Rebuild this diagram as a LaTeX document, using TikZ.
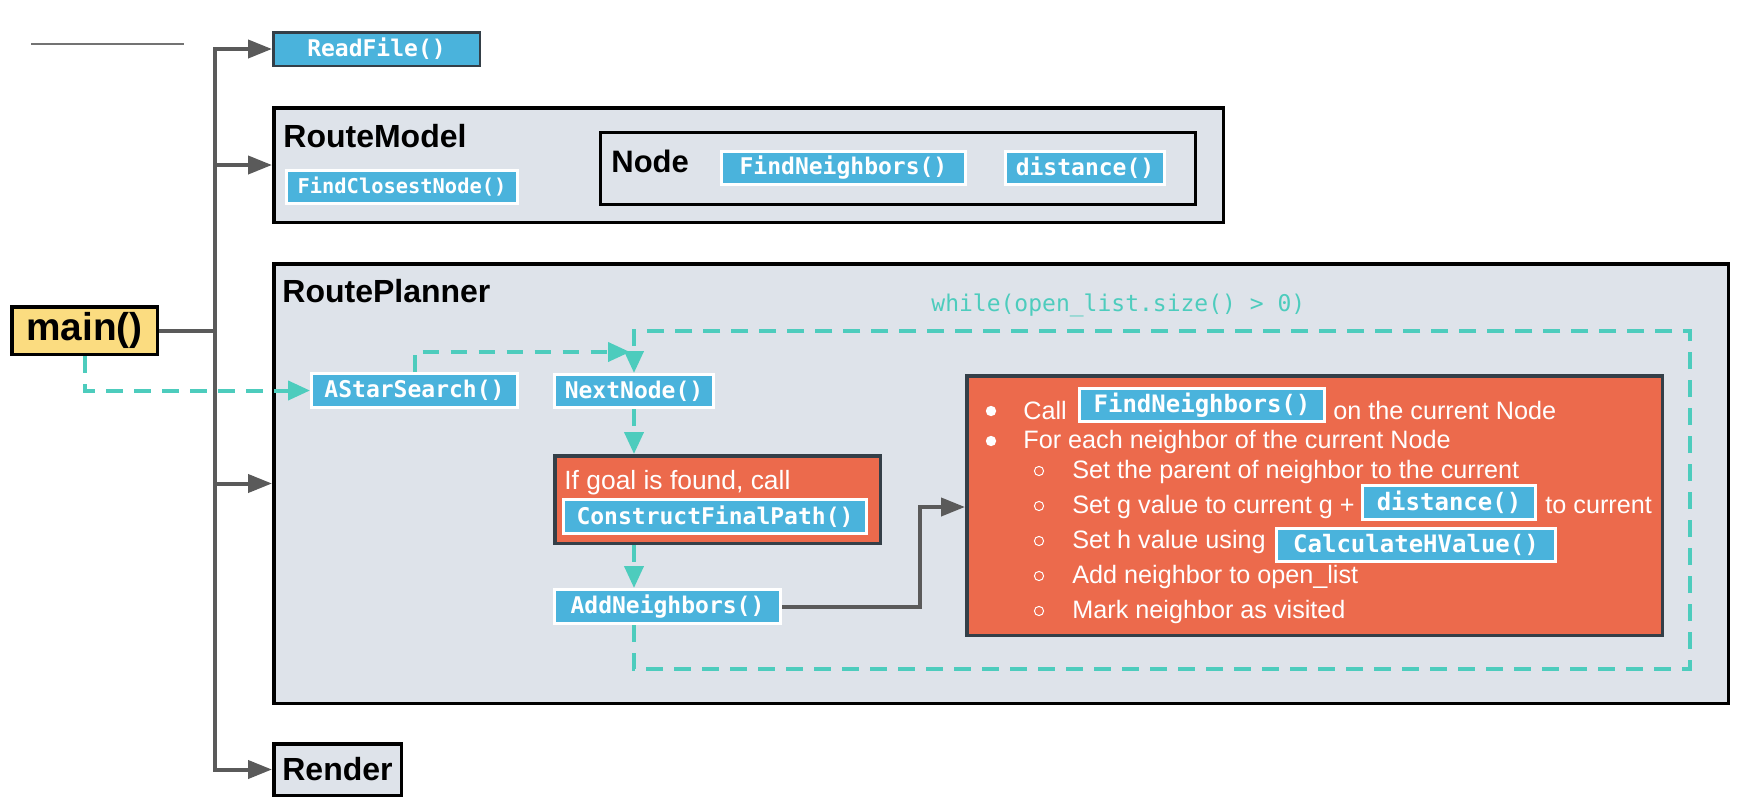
\documentclass[tikz,border=0pt]{standalone}
\usepackage{fontspec}
\setmainfont{Liberation Sans}
\newfontfamily\monof{DejaVu Sans Mono}
\usetikzlibrary{arrows.meta}
\definecolor{panelc}{RGB}{222,227,234}
\definecolor{bluec}{RGB}{74,179,220}
\definecolor{orangec}{RGB}{236,106,76}
\definecolor{tealc}{RGB}{77,204,189}
\definecolor{lgray}{RGB}{90,90,90}
\definecolor{yellowc}{RGB}{251,220,128}
\definecolor{darkb}{RGB}{52,63,72}
\begin{document}
\begin{tikzpicture}[x=0.5pt,y=-0.5pt,
 panel/.style={rectangle, draw=black, fill=panelc, line width=1.75pt, inner sep=0pt},
 bluebox/.style={rectangle, fill=bluec, draw=white, line width=1.5pt, inner sep=0pt, text=white, font=\monof\bfseries\fontsize{11.5pt}{13pt}\selectfont},
 orbox/.style={rectangle, fill=orangec, draw=darkb, line width=1.75pt, inner sep=0pt},
 ttl/.style={anchor=base west, inner sep=0pt, font=\bfseries\fontsize{16pt}{18pt}\selectfont},
 btxt/.style={anchor=base west, inner sep=0pt, text=white, font=\fontsize{12.6pt}{14pt}\selectfont},
 gline/.style={draw=lgray, line width=2pt},
 garrow/.style={-{Triangle[length=12pt,width=9pt]}},
 tline/.style={draw=tealc, line width=2pt, dash pattern=on 8.3pt off 5.7pt},
 tarrow/.style={-{Triangle[length=11pt,width=9.5pt]}},
 inbox/.style={font=\monof\bfseries\fontsize{12pt}{14pt}\selectfont}
]
\useasboundingbox (0,0) rectangle (1746,809);

% decorative short line
\coordinate (sl1) at (31,44);
\coordinate (sl2) at (184,44);
\draw[draw=black!55, line width=0.75pt] (sl1) -- (sl2);

% ReadFile
\node[bluebox, draw=darkb, line width=1.25pt, minimum width=103.25pt, minimum height=16.75pt] (readfile) at (376.5,49) {ReadFile()};

% RouteModel
\node[panel, minimum width=474.75pt, minimum height=57.25pt] (routemodel) at (748.5,165) {};
\node[ttl] (rmtitle) at (283,147) {RouteModel};
\node[bluebox, font=\monof\bfseries\fontsize{10.2pt}{12pt}\selectfont, minimum width=115.5pt, minimum height=16.5pt] (fcn) at (402,187) {FindClosestNode()};
\node[rectangle, draw=black, line width=1.5pt, inner sep=0pt, minimum width=297.5pt, minimum height=36pt] (nodebox) at (898,168.5) {};
\node[ttl, font=\bfseries\fontsize{15.5pt}{17pt}\selectfont] (nodetitle) at (611,172) {Node};
\node[bluebox, minimum width=122pt, minimum height=16.5pt] (fn1) at (843.5,168) {FindNeighbors()};
\node[bluebox, minimum width=79.5pt, minimum height=16.5pt] (dist1) at (1085,168) {distance()};

% RoutePlanner
\node[panel, minimum width=727.25pt, minimum height=219.75pt] (routeplanner) at (1001,483.5) {};
\node[ttl] (rptitle) at (282,302) {RoutePlanner};
\node[anchor=base west, inner sep=0pt, text=tealc, font=\monof\fontsize{11.5pt}{13pt}\selectfont] (whiletxt) at (931,311) {while(open\_list.size() > 0)};
\node[bluebox, minimum width=103pt, minimum height=17pt] (astar) at (414.5,390.5) {AStarSearch()};
\node[bluebox, minimum width=79.5pt, minimum height=16.5pt] (nextnode) at (634,391) {NextNode()};
\node[orbox, minimum width=162.75pt, minimum height=43.75pt] (goal) at (717.5,499.5) {};
\node[btxt, font=\fontsize{13.2pt}{15pt}\selectfont] (goaltxt) at (564,489) {If goal is found, call};
\node[bluebox, minimum width=151.5pt, minimum height=17pt] (cfp) at (715,516.5) {ConstructFinalPath()};
\node[bluebox, minimum width=113pt, minimum height=17pt] (addn) at (667.5,606.5) {AddNeighbors()};

\node[orbox, minimum width=347.75pt, minimum height=129.75pt] (bigbox) at (1314.5,505.5) {};
\node[btxt] (l1a) at (1023,419) {Call};
\node[bluebox, inbox, minimum width=122.5pt, minimum height=16.5pt] (fn2) at (1202,405) {FindNeighbors()};
\node[btxt] (l1b) at (1333,419) {on the current Node};
\node[btxt] (l2) at (1023,448) {For each neighbor of the current Node};
\node[btxt] (l3) at (1072,478) {Set the parent of neighbor to the current};
\node[btxt] (l4a) at (1072,513) {Set g value to current g +};
\node[bluebox, inbox, minimum width=86.5pt, minimum height=17pt] (dist2) at (1449,502.5) {distance()};
\node[btxt] (l4b) at (1545,513) {to current};
\node[btxt] (l5) at (1072,548) {Set h value using};
\node[bluebox, inbox, minimum width=139.5pt, minimum height=16.5pt] (chv) at (1416,545) {CalculateHValue()};
\node[btxt] (l6) at (1072,583) {Add neighbor to open\_list};
\node[btxt] (l7) at (1072,618) {Mark neighbor as visited};
\fill[white] (991,411) circle (2.6pt);
\fill[white] (991,441) circle (2.6pt);
\foreach \yy in {471,506,541,576,611} \draw[white, line width=0.5pt] (1039,\yy) circle (2.3pt);

% main and Render
\node[rectangle, fill=yellowc, draw=black, line width=1.75pt, minimum width=72.75pt, minimum height=23.75pt, inner sep=0pt, font=\bfseries\fontsize{19.4pt}{21pt}\selectfont] (main) at (84.5,330.5) {main()};
\node[panel, minimum width=63.75pt, minimum height=25.75pt, font=\bfseries\fontsize{16pt}{18pt}\selectfont] (render) at (337.5,769.5) {Render};

% gray connectors
\coordinate (tj) at (215,330.5);
\draw[gline] (main.east) -- (tj);
\draw[gline,garrow] (tj) |- (readfile.west);
\draw[gline,garrow] (tj) |- (routemodel.west);
\draw[gline,garrow] (tj) |- (routeplanner.west);
\draw[gline,garrow] (tj) |- (render.west);
\coordinate (bj) at (920,507);
\draw[gline,garrow] (addn.east) -| (bj) -- (bj -| bigbox.west);

% teal connectors
\draw[tline,tarrow] (main.south) |- (astar.west);
\coordinate (nnin) at (630,352);
\draw[tline,tarrow] (astar.north) |- (nnin);
\draw[tline,tarrow] (nextnode.south) -- (nextnode.south |- goal.north);
\draw[tline,tarrow] (nextnode.south |- goal.south) -- (nextnode.south |- addn.north);
\coordinate (loopBR) at (1690,669);
\coordinate (loopTR) at (1690,331);
\draw[tline,tarrow] (nextnode.south |- addn.south) |- (loopBR) -- (loopTR) -| (nextnode.north);
\end{tikzpicture}
\end{document}
